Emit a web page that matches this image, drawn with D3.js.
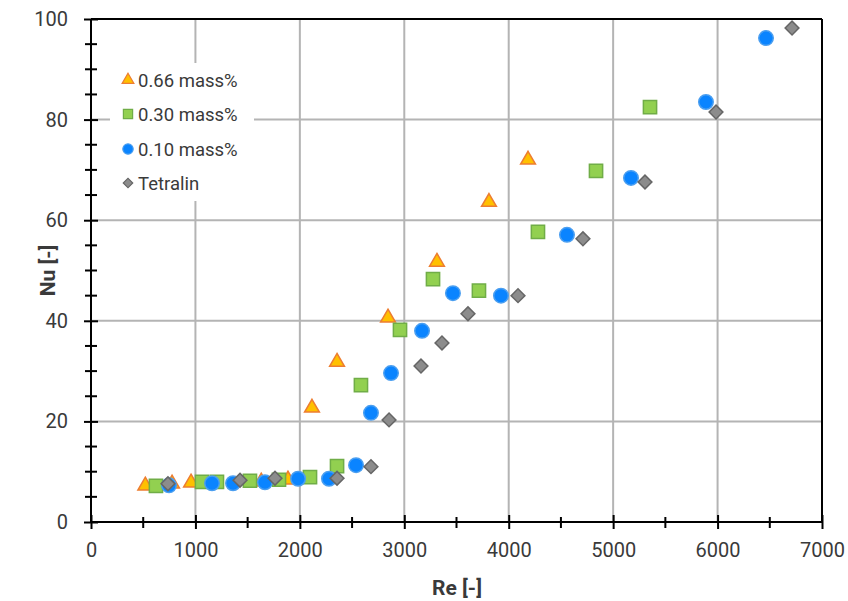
<!DOCTYPE html>
<html><head><meta charset="utf-8">
<script src="https://cdn.jsdelivr.net/npm/d3@7"></script>
<style>body{margin:0;background:#fff}svg{display:block}</style>
</head><body>
<svg id="c" width="848" height="601"></svg>
<script>
const seriesNames = ["0.66 mass%", "0.30 mass%", "0.10 mass%", "Tetralin"];
const re066 = [520, 776, 958, 1630, 1886, 2116, 2356, 2844, 3313, 3811, 4185];
const nu066 = [7.2, 7.6, 7.8, 8.0, 8.4, 22.7, 31.8, 40.6, 51.7, 63.6, 72.0];
const re030 = [622, 1063, 1206, 1522, 1800, 2097, 2356, 2585, 2959, 3275, 3715, 4280, 4836, 5353];
const nu030 = [7.2, 8.0, 8.0, 8.2, 8.4, 8.9, 11.1, 27.2, 38.2, 48.3, 46.0, 57.7, 69.8, 82.5];
const re010 = [747, 1159, 1360, 1666, 1983, 2279, 2538, 2681, 2873, 3170, 3466, 3926, 4558, 5171, 5889, 6464];
const nu010 = [7.3, 7.7, 7.7, 7.9, 8.6, 8.6, 11.3, 21.7, 29.6, 38.0, 45.5, 45.0, 57.1, 68.4, 83.5, 96.2];
const reTet = [737, 1427, 1762, 2356, 2681, 2854, 3160, 3361, 3610, 4089, 4711, 5305, 5985, 6713];
const nuTet = [7.6, 8.3, 8.7, 8.7, 11.0, 20.3, 31.0, 35.6, 41.4, 45.0, 56.3, 67.6, 81.5, 98.2];
const xTicks = [0, 1000, 2000, 3000, 4000, 5000, 6000, 7000];
const yTicks = [0, 20, 40, 60, 80, 100];

const svg = d3.select("#c");
const L = 91, R = 822, T = 19, B = 522;
const x = d3.scaleLinear().domain([0, 7000]).range([L, R]);
const y = d3.scaleLinear().domain([0, 100]).range([B, T]);
const font = "Roboto, 'Open Sans', sans-serif";
const txt = "#3a3a3a";

// gridlines
const g = svg.append("g");
g.selectAll("line.gx").data(xTicks.slice(1, -1)).enter().append("line")
  .attr("x1", d => x(d)).attr("x2", d => x(d)).attr("y1", T).attr("y2", B)
  .attr("stroke", "#b4b4b4").attr("stroke-width", 2);
g.selectAll("line.gy").data(yTicks.slice(1, -1)).enter().append("line")
  .attr("y1", d => y(d)).attr("y2", d => y(d)).attr("x1", L).attr("x2", R)
  .attr("stroke", "#b4b4b4").attr("stroke-width", 2);

// frame (top and right)
svg.append("line").attr("x1", L).attr("x2", R).attr("y1", T).attr("y2", T).attr("stroke", "#000").attr("stroke-width", 2);
svg.append("line").attr("x1", R).attr("x2", R).attr("y1", T).attr("y2", B).attr("stroke", "#000").attr("stroke-width", 2);

// legend background
svg.append("rect").attr("x", 110).attr("y", 63).attr("width", 144).attr("height", 138).attr("fill", "#fff");

// axes
const xMinor = d3.range(500, 7000, 1000);
const yMinor = d3.range(0, 100, 5).filter(v => v % 20 !== 0);
const ax = svg.append("g").attr("transform", `translate(0,${B})`)
  .call(d3.axisBottom(x).tickValues(xTicks).tickSize(7).tickPadding(14).tickFormat(d3.format("d")));
ax.selectAll(".tick line").attr("y1", -7).attr("stroke-width", 2);
ax.select(".domain").attr("stroke-width", 2).attr("d", `M${L},0H${R}`);
ax.selectAll("text").attr("font-family", font).attr("font-size", 20).attr("fill", txt);
svg.append("g").selectAll("line").data(xMinor).enter().append("line")
  .attr("x1", d => x(d)).attr("x2", d => x(d)).attr("y1", B - 5).attr("y2", B + 6)
  .attr("stroke", "#000").attr("stroke-width", 2);

const ay = svg.append("g").attr("transform", `translate(${L},0)`)
  .call(d3.axisLeft(y).tickValues(yTicks).tickSize(7).tickPadding(16));
ay.selectAll(".tick line").attr("x1", 7).attr("stroke-width", 2);
ay.select(".domain").attr("stroke-width", 2).attr("d", `M0,${T}V${B}`);
ay.selectAll("text").attr("font-family", font).attr("font-size", 20).attr("fill", txt);
svg.append("g").selectAll("line").data(yMinor).enter().append("line")
  .attr("y1", d => y(d)).attr("y2", d => y(d)).attr("x1", L - 6).attr("x2", L + 6)
  .attr("stroke", "#000").attr("stroke-width", 2);

// axis titles
svg.append("text").attr("x", 457).attr("y", 595).attr("text-anchor", "middle")
  .attr("font-family", font).attr("font-size", 21).attr("font-weight", "bold").attr("fill", txt).text("Re [-]");
svg.append("text").attr("transform", `translate(55,${(T + B) / 2}) rotate(-90)`).attr("text-anchor", "middle")
  .attr("font-family", font).attr("font-size", 21).attr("font-weight", "bold").attr("fill", txt).text("Nu [-]");

// series
const styles = [
  { sym: d3.symbolTriangle, size: 95, rot: 0, fill: "#FFC000", stroke: "#ED7D31" },
  { sym: d3.symbolSquare, size: 175, rot: 0, fill: "#92D050", stroke: "#70AD47" },
  { sym: d3.symbolCircle, size: 165, rot: 0, fill: "#0A84FF", stroke: "#4A9EF0" },
  { sym: d3.symbolSquare, size: 95, rot: 45, fill: "#8C8C8C", stroke: "#666666" }
];
const data = [
  re066.map((r, i) => [r, nu066[i]]),
  re030.map((r, i) => [r, nu030[i]]),
  re010.map((r, i) => [r, nu010[i]]),
  reTet.map((r, i) => [r, nuTet[i]])
];
data.forEach((pts, k) => {
  const s = styles[k];
  svg.append("g").selectAll("path").data(pts).enter().append("path")
    .attr("d", d3.symbol().type(s.sym).size(s.size))
    .attr("transform", d => `translate(${x(d[0])},${y(d[1])}) rotate(${s.rot})`)
    .attr("fill", s.fill).attr("stroke", s.stroke).attr("stroke-width", 1.5);
});

// legend
const legY = [80, 114, 149, 183];
const lsize = [60, 85, 85, 45];
seriesNames.forEach((n, k) => {
  const s = styles[k];
  svg.append("path").attr("d", d3.symbol().type(s.sym).size(lsize[k]))
    .attr("transform", `translate(128,${legY[k]}) rotate(${s.rot})`)
    .attr("fill", s.fill).attr("stroke", s.stroke).attr("stroke-width", 1.2);
  svg.append("text").attr("x", 138).attr("y", legY[k] + 6.5).attr("font-family", font)
    .attr("font-size", 18.5).attr("fill", txt).text(n);
});
</script>
</body></html>
